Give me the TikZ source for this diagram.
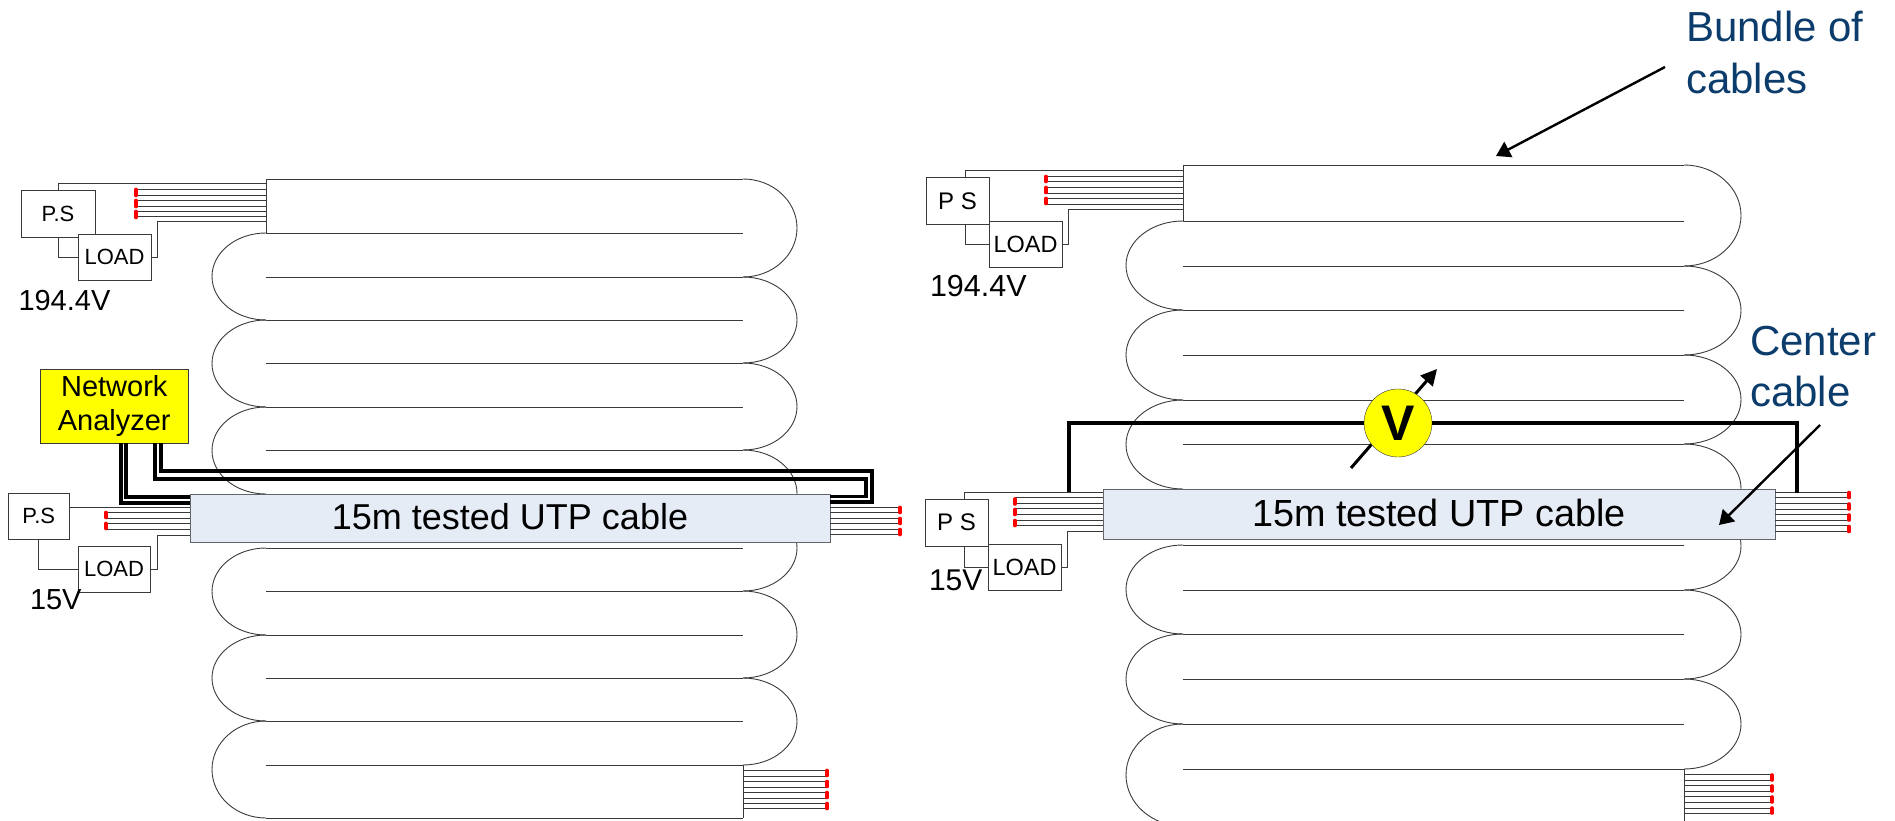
\documentclass[tikz,border=0pt]{standalone}
\usepackage{fontspec}
\setmainfont{Liberation Sans}
\usepackage{xcolor}
\usetikzlibrary{positioning, arrows.meta, calc, shapes.geometric}
\definecolor{wireGray}{HTML}{3A3A3A}
\definecolor{cutFill}{HTML}{E6ECF6}
\definecolor{cutBorder}{HTML}{62666C}
\definecolor{noteBlue}{HTML}{0B3C6B}
\definecolor{meterYellow}{HTML}{FFFF00}

\begin{document}
\begin{tikzpicture}[x=1pt,y=-1pt,every node/.style={align=center,inner sep=0pt,outer sep=0pt}]
    \tikzset{coilline/.style={draw=wireGray,line width=0.9pt},
      wire/.style={draw=wireGray,line width=1pt},
      redtick/.style={draw=red,line width=3.6pt,line cap=round},
      psbox/.style={draw=wireGray,fill=white,line width=1pt,minimum width=63pt,minimum height=47pt,font=\fontsize{24}{28}\selectfont},
      loadbox/.style={draw=wireGray,fill=white,line width=1pt,minimum width=73pt,minimum height=46pt,font=\fontsize{23.5}{28}\selectfont},
      voltlabel/.style={anchor=base west,font=\fontsize{29}{33}\selectfont},
      cutbox/.style={draw=cutBorder,fill=cutFill,line width=1pt},
      analyzerwire/.style={draw=black,line width=3.6pt,line join=miter},
      meterwire/.style={draw=black,line width=3.8pt},
      note/.style={anchor=north west,align=left,text=noteBlue,font=\fontsize{42}{51.5}\selectfont},
      arrow/.style={-{Triangle[length=14pt,width=17pt]},draw=black,line width=2.4pt}}
    \useasboundingbox (0,0) rectangle (1895,821);
    % left coil
    \foreach \ly in {179,233,277,320,363,407,450,548,591,635,678,721,765,818}
      \draw[coilline] (266,\ly) -- (743,\ly);
    \foreach \ya/\yb in {179/277,277/363,363/450,450/537,505/591,591/678,678/765}
      \draw[coilline] (743,\ya) arc[start angle=90,end angle=-90,x radius=54pt,y radius={(\yb-\ya)/2*1pt}];
    \foreach \ya/\yb in {233/320,320/407,407/494,548/635,635/721,721/818}
      \draw[coilline] (266,\ya) arc[start angle=90,end angle=270,x radius=54pt,y radius={(\yb-\ya)/2*1pt}];
    \draw[coilline] (266,179) -- (266,233);
    \draw[coilline] (743,765) -- (743,818);
    % right coil
    \foreach \ly in {165,221,266,310,355,400,444,545,590,634,679,724,769}
      \draw[coilline] (1183,\ly) -- (1684,\ly);
    \foreach \ya/\yb in {165/266,266/355,355/444,444/533,502/590,590/679,679/769}
      \draw[coilline] (1684,\ya) arc[start angle=90,end angle=-90,x radius=57pt,y radius={(\yb-\ya)/2*1pt}];
    \foreach \ya/\yb in {221/310,310/400,400/489,545/634,634/724,724/826}
      \draw[coilline] (1183,\ya) arc[start angle=90,end angle=270,x radius=57pt,y radius={(\yb-\ya)/2*1pt}];
    \draw[coilline] (1183,165) -- (1183,221);
    \draw[coilline] (1684,769) -- (1684,826);
    % cables under test
    \node[cutbox,minimum width=640pt,minimum height=48pt,font=\fontsize{36}{40}\selectfont] (cuta) at (510,518) {\raisebox{3pt}{15m tested UTP cable}};
    \node[cutbox,minimum width=672pt,minimum height=50pt,font=\fontsize{37.8}{42}\selectfont] (cutb) at (1439,514) {\raisebox{3pt}{15m tested UTP cable}};
    % supplies and loads
    \node[psbox,minimum width=74pt,minimum height=46pt,font=\fontsize{22}{26}\selectfont] (psa) at (58,214) {P.S};
    \node[loadbox,font=\fontsize{22}{26}\selectfont,below right=-3pt and -17pt of psa] (loada) {LOAD};
    \node[psbox,minimum width=60.5pt,minimum height=46pt,font=\fontsize{22}{26}\selectfont] (psc) at (38.75,516) {P.S};
    \node[loadbox,minimum width=72pt,font=\fontsize{22}{26}\selectfont,below right=7pt and 9pt of psc] (loadc) {LOAD};
    \node[psbox] (psb) at (957.5,201) {P S};
    \node[loadbox,below right=-3pt and 0pt of psb] (loadb) {LOAD};
    \node[psbox] (psd) at (956.5,522.5) {P S};
    \node[loadbox,below right=-2pt and 0pt of psd] (loadd) {LOAD};
    \node[voltlabel] (va) at (18.5,310) {194.4V};
    \node[voltlabel,font=\fontsize{30.5}{34}\selectfont] (vb) at (930,296) {194.4V};
    \node[voltlabel] (vc) at (30,609) {15V};
    \node[voltlabel,font=\fontsize{30}{34}\selectfont] (vd) at (929,590) {15V};
    % wires left
    \coordinate (coila) at (266,179);
    \draw[wire] (psa.north) |- ($(coila)+(0,5)$);
    \draw[wire] (loada.east) -- ++(6,0) |- ($(coila)+(0,43)$);
    \draw[wire] (psa.south) |- (loada.west);
    \foreach \wy in {190,195.3,200.7,206.3,211.7,217} \draw[wire] (136,\wy) -- (266,\wy);
    \foreach \ry in {192.5,203.5,214.5} \draw[redtick] (136,\ry-3) -- (136,\ry+3);
    \coordinate (cutaTop) at ($(cuta.north west)+(0,13)$);
    \draw[wire] (cutaTop) -- (psc.east |- cutaTop);
    \draw[wire] (loadc.east) -- ++(7,0) |- ($(cuta.north west)+(0,41)$);
    \draw[wire] (psc.south) |- (loadc.west);
    \foreach \wy in {512.7,518,523.7,529} \draw[wire] (106,\wy) -- (190,\wy);
    \foreach \ry in {515,526} \draw[redtick] (106,\ry-2.5) -- (106,\ry+2.5);
    \foreach \wy in {507,512.7,518,523.3,529,534.3} \draw[wire] (830,\wy) -- (900,\wy);
    \foreach \ry in {510,521,532} \draw[redtick] (900,\ry-2.5) -- (900,\ry+2.5);
    \foreach \wy in {770,776,781,787,792,798,803,808} \draw[wire] (743,\wy) -- (827,\wy);
    \foreach \ry in {773,784,795,806} \draw[redtick] (827,\ry-2.5) -- (827,\ry+2.5);
    % wires right
    \coordinate (coilb) at (1183,165);
    \draw[wire] ($(psb.north)+(8,0)$) |- ($(coilb)+(0,6)$);
    \draw[wire] (loadb.east) -- ++(6,0) |- ($(coilb)+(0,45)$);
    \draw[wire] ($(psb.south)+(8,0)$) |- (loadb.west);
    \foreach \wy in {176.3,182,187.7,193.3,199,204.3} \draw[wire] (1047,\wy) -- (1183,\wy);
    \foreach \ry in {179,190,201} \draw[redtick] (1046,\ry-2.5) -- (1046,\ry+2.5);
    \draw[wire] ($(psd.north)+(8,0)$) |- ($(cutb.north west)+(0,3)$);
    \draw[wire] (loadd.east) -- ++(6,0) |- ($(cutb.north west)+(0,42)$);
    \draw[wire] ($(psd.south)+(8,0)$) |- (loadd.west);
    \foreach \wy in {497.7,503.3,508.7,514.3,520,525.7} \draw[wire] (1015,\wy) -- (1103,\wy);
    \foreach \ry in {501.5,512,523} \draw[redtick] (1015,\ry-2.5) -- (1015,\ry+2.5);
    \foreach \wy in {492,497,503,509,514,520,525,531} \draw[wire] (1775,\wy) -- (1849,\wy);
    \foreach \ry in {495,506.5,517.5,529} \draw[redtick] (1849,\ry-2.5) -- (1849,\ry+2.5);
    \foreach \wy in {774,780,785,791,796,802,808,813} \draw[wire] (1684,\wy) -- (1772,\wy);
    \foreach \ry in {777.5,788.5,799.5,810.5} \draw[redtick] (1772,\ry-2.5) -- (1772,\ry+2.5);
    % analyzer
    \node[draw=wireGray,fill=meterYellow,line width=1pt,minimum width=147.5pt,minimum height=74pt,font=\fontsize{29}{33.5}\selectfont] (na) at (114.25,406) {Network\\Analyzer};
    \draw[analyzerwire] ($(na.south)+(7,0)$) |- ($(cuta.north west)+(0,9)$);
    \draw[analyzerwire] ($(na.south)+(11.5,0)$) |- ($(cuta.north west)+(0,3)$);
    \draw[analyzerwire] ($(na.south)+(41,0)$) |- (866,479) |- ($(cuta.north east)+(0,2.5)$);
    \draw[analyzerwire] ($(na.south)+(46.5,0)$) |- (872,471) |- ($(cuta.north east)+(0,8)$);
    % meter
    \coordinate (meterTail) at (1351,468);
    \coordinate (meterHead) at (1437,369);
    \draw[-{Triangle[length=16pt,width=16pt]},draw=black,line width=3pt] (meterTail) -- (meterHead);
    \node[draw=wireGray,fill=meterYellow,ellipse,minimum width=68pt,minimum height=68pt,font=\fontsize{50}{54}\selectfont\bfseries] (volt) at (1398,423) {V};
    \draw[meterwire] ($(cutb.north west)+(-34,3)$) |- (volt.west);
    \draw[meterwire] (volt.east) -| ($(cutb.north east)+(22,4)$);
    % notes
    \node[note] (bundle) at (1686,11.5) {Bundle of\\cables};
    \node[note] (center) at (1750,326) {Center\\cable};
    \coordinate (bundleTail) at (1665,67);
    \coordinate (bundleHead) at (1496,156);
    \coordinate (centerTail) at (1820,425);
    \coordinate (centerHead) at (1719,525);
    \draw[arrow] (bundleTail) -- (bundleHead);
    \draw[arrow] (centerTail) -- (centerHead);
  \end{tikzpicture}
\end{document}
